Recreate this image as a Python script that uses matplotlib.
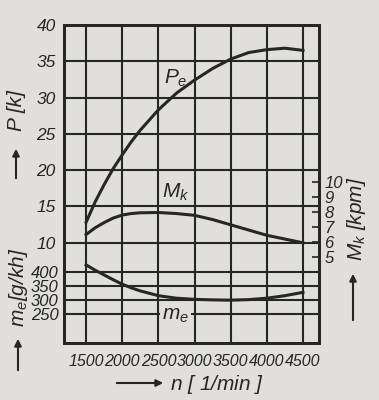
import numpy as np
import matplotlib
matplotlib.use("Agg")
import matplotlib.pyplot as plt
from matplotlib.patches import FancyArrowPatch

# engine speed [1/min]
rpm = [1500, 1625, 1750, 1875, 2000, 2125, 2250, 2500, 2750, 3000, 3250, 3500, 3750, 4000, 4250, 4500]
# effective power P_e [k]
power = [12.8, 15.6, 18.0, 20.2, 22.1, 23.9, 25.5, 28.3, 30.6, 32.4, 34.0, 35.3, 36.2, 36.6, 36.8, 36.5]
# torque M_k [kpm]
torque = [6.5, 6.95, 7.3, 7.6, 7.8, 7.9, 7.95, 7.97, 7.9, 7.78, 7.5, 7.15, 6.8, 6.45, 6.2, 5.95]
# specific consumption m_e [g/kh]
consumption = [425, 406, 389, 372, 356, 343, 332, 315, 306, 302, 300, 299, 301, 306, 315, 327]

x_ticks = [1500, 2000, 2500, 3000, 3500, 4000, 4500]
p_ticks = [10, 15, 20, 25, 30, 35, 40]
m_ticks = [5, 6, 7, 8, 9, 10]
e_ticks = [250, 300, 350, 400]

paper = "#e0dfdb"
ink = "#262626"

plt.rcParams["font.family"] = ["Liberation Sans", "DejaVu Sans"]
plt.rcParams["font.style"] = "italic"
plt.rcParams["mathtext.fontset"] = "custom"
plt.rcParams["mathtext.it"] = "Liberation Sans:italic"
plt.rcParams["mathtext.rm"] = "Liberation Sans:italic"

W, H = 379, 400
fig = plt.figure(figsize=(W / 100, H / 100), dpi=100, facecolor=paper)
ax = fig.add_axes([64 / W, 1 - 343 / H, (319 - 64) / W, (343 - 25) / H], facecolor=paper)
ax_m = ax.twinx()
ax_e = ax.twinx()

ax.set_xlim(1194, 4722)
ax.set_ylim(-3.86, 40)
ax_m.set_ylim(-0.73, 20.47)
ax_e.set_ylim(146, 1282)

# grid
ax.set_xticks(x_ticks)
ax.set_yticks(p_ticks)
ax.grid(True, color=ink, lw=1.5)
ax_e.set_yticks(e_ticks)
ax_e.grid(True, axis="y", color=ink, lw=1.5)

# curves
ax.plot(rpm, power, color=ink, lw=2.2, solid_joinstyle="round")
ax_m.plot(rpm, torque, color=ink, lw=2.2, solid_joinstyle="round")
ax_e.plot(rpm, consumption, color=ink, lw=2.2, solid_joinstyle="round")

for a in (ax, ax_m, ax_e):
    for s in a.spines.values():
        s.set_linewidth(1.9)
        s.set_color(ink)

ax.tick_params(axis="x", length=0, labelsize=11.5, pad=8, colors=ink)
ax.tick_params(axis="y", length=0, labelsize=12.5, pad=6, colors=ink)
ax_e.yaxis.tick_left()
ax_e.tick_params(axis="y", length=0, labelsize=12, pad=4, colors=ink)
ax_m.set_yticks(m_ticks)
ax_m.tick_params(axis="y", direction="in", length=5, width=1.2, labelsize=12, pad=4, colors=ink)

# curve labels
ax.text(2740, 32.7, "$P_e$", fontsize=15, ha="center", va="center", color=ink)
ax_m.text(2740, 9.3, "$M_k$", fontsize=15, ha="center", va="center", color=ink)
ax_e.text(2740, 246, "$m_e$", fontsize=15, ha="center", va="center", color=ink,
          bbox=dict(facecolor=paper, edgecolor="none", pad=1.5))

# axis titles with arrows
def fx(px):
    return px / W

def fy(py):
    return 1 - py / H

fig.text(fx(17), fy(111), "P [k]", rotation=90, fontsize=15, ha="center", va="center", color=ink)
fig.text(fx(19), fy(287), "$m_e$[g/kh]", rotation=90, fontsize=15, ha="center", va="center", color=ink)
fig.text(fx(357), fy(219), "$M_k$ [kpm]", rotation=90, fontsize=15, ha="center", va="center", color=ink)
fig.text(fx(170), fy(384), "$n$ [ 1/min ]", fontsize=15, ha="left", va="center", color=ink)

arrow = dict(arrowstyle="-|>", color=ink, lw=1.5, mutation_scale=10)
for (x0, y0), (x1, y1) in [((16, 181), (16, 146)), ((18, 373), (18, 336)),
                           ((353, 323), (353, 271)), ((114, 383), (166, 383))]:
    fig.add_artist(FancyArrowPatch((fx(x0), fy(y0)), (fx(x1), fy(y1)),
                                   transform=fig.transFigure, **arrow))

fig.savefig("out.png", dpi=100, facecolor=paper)
